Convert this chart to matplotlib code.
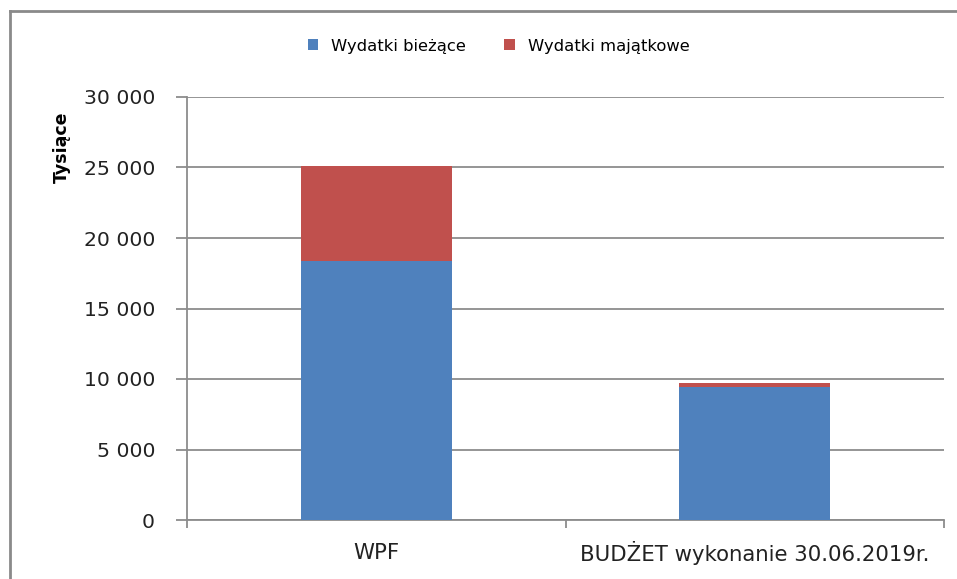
import matplotlib.pyplot as plt
from matplotlib.lines import Line2D
import numpy as np

categories = ["WPF", "BUDŻET wykonanie 30.06.2019r."]
biezace = [18400, 9420]
majatkowe = [6700, 280]
yticks = [0, 5000, 10000, 15000, 20000, 25000, 30000]

plt.rcParams['font.family'] = ['DejaVu Sans']

fig = plt.figure(figsize=(9.57, 5.79), dpi=100)
ax = fig.add_axes([187 / 957, 1 - 520 / 579, (944 - 187) / 957, (520 - 97) / 579])

x = np.arange(len(categories))
blue = '#4F81BD'
red = '#C0504D'
grid_c = '#8C8C8C'

b1 = ax.bar(x, biezace, width=0.4, color=blue, zorder=3)
b2 = ax.bar(x, majatkowe, bottom=biezace, width=0.4, color=red, zorder=3)

ax.set_xlim(-0.5, len(categories) - 0.5)
ax.set_ylim(0, 30000)
ax.set_yticks(yticks)
ax.set_yticklabels([f"{v:,}".replace(",", " ") for v in yticks], fontsize=14.7, color='#222222')
ax.yaxis.grid(True, color=grid_c, lw=1.3, zorder=0)

# category boundary ticks on the x axis
ax.set_xticks(np.arange(len(categories) + 1) - 0.5)
ax.set_xticklabels([])
ax.tick_params(axis='x', length=6, width=1.3, color=grid_c)
ax.tick_params(axis='y', length=8, width=1.3, color=grid_c, pad=15)
for i, c in enumerate(categories):
    ax.text(i, -0.078, c, transform=ax.get_xaxis_transform(), ha='center', va='center',
            fontsize=15.3, color='#222222')

for s in ['top', 'right']:
    ax.spines[s].set_visible(False)
for s in ['left', 'bottom']:
    ax.spines[s].set_color(grid_c)
    ax.spines[s].set_linewidth(1.3)

fig.text(62 / 957, 1 - 147 / 579, "Tysiące", rotation=90, ha='center', va='center',
         fontsize=12.5, fontweight='bold')

leg = fig.legend([b1, b2], ["Wydatki bieżące", "Wydatki majątkowe"], loc='center',
                 bbox_to_anchor=(0.521, 1 - 46 / 579), ncol=2, frameon=False, fontsize=11.8,
                 handlelength=0.65, handleheight=0.65, handletextpad=0.8, columnspacing=2.3)

# chart frame (left and top edges visible)
fig.add_artist(Line2D([10 / 957, 10 / 957], [0, 1 - 11 / 579], color='#8A8A8A', lw=2))
fig.add_artist(Line2D([10 / 957, 1], [1 - 11 / 579, 1 - 11 / 579], color='#8A8A8A', lw=2))

fig.savefig("out.png", dpi=100)
